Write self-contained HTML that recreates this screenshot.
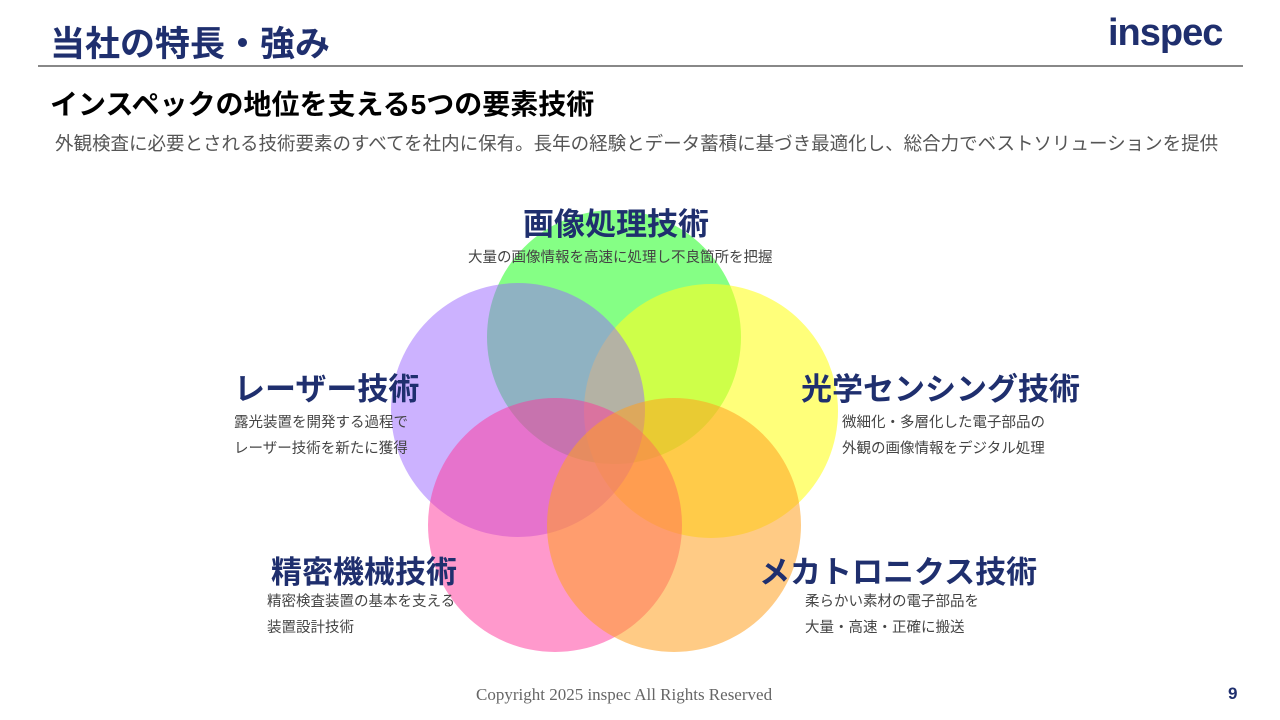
<!DOCTYPE html>
<html><head><meta charset="utf-8"><style>
body{margin:0;width:1280px;height:720px;background:#fff;position:relative;overflow:hidden;font-family:"Liberation Sans","Noto Sans CJK JP",sans-serif;}
.a{position:absolute;white-space:nowrap;}
.h{color:#1f2f6e;font-weight:bold;font-size:31px;}
.d{color:#444;font-size:14.5px;line-height:26px;}
</style></head><body>
<div class="a" style="left:50px;top:16px;font-size:35px;font-weight:bold;color:#1f2f6e;">当社の特長・強み</div>
<div class="a" style="left:1108px;top:12px;font-size:38px;font-weight:bold;color:#1f2f6e;letter-spacing:-1px;">inspec</div>
<div class="a" style="left:38px;top:65px;width:1205px;height:2px;background:#888;"></div>
<div class="a" style="left:50px;top:83px;font-size:28px;font-weight:bold;color:#000;">インスペックの地位を支える5つの要素技術</div>
<div class="a" style="left:55px;top:130px;font-size:18.5px;color:#555;">外観検査に必要とされる技術要素のすべてを社内に保有。長年の経験とデータ蓄積に基づき最適化し、総合力でベストソリューションを提供</div>
<svg class="a" style="left:0;top:0" width="1280" height="720">
<circle cx="614" cy="337" r="127" fill="#33ff33" fill-opacity="0.6"/>
<circle cx="711" cy="411" r="127" fill="#ffff22" fill-opacity="0.6"/>
<circle cx="518" cy="410" r="127" fill="#9966ff" fill-opacity="0.5"/>
<circle cx="555" cy="525" r="127" fill="#ff3399" fill-opacity="0.5"/>
<circle cx="674" cy="525" r="127" fill="#ffa020" fill-opacity="0.55"/>
</svg>
<div class="a h" style="left:523px;top:199px;">画像処理技術</div>
<div class="a d" style="left:468px;top:245px;">大量の画像情報を高速に処理し不良箇所を把握</div>
<div class="a h" style="left:234px;top:364px;">レーザー技術</div>
<div class="a d" style="left:234px;top:410px;">露光装置を開発する過程で<br>レーザー技術を新たに獲得</div>
<div class="a h" style="left:801px;top:364px;">光学センシング技術</div>
<div class="a d" style="left:842px;top:410px;">微細化・多層化した電子部品の<br>外観の画像情報をデジタル処理</div>
<div class="a h" style="left:271px;top:547px;">精密機械技術</div>
<div class="a d" style="left:267px;top:589px;">精密検査装置の基本を支える<br>装置設計技術</div>
<div class="a h" style="left:759px;top:547px;">メカトロニクス技術</div>
<div class="a d" style="left:805px;top:589px;">柔らかい素材の電子部品を<br>大量・高速・正確に搬送</div>
<div class="a" style="left:476px;top:685px;font-family:'Liberation Serif',serif;font-size:17px;color:#666;">Copyright 2025 inspec All Rights Reserved</div>
<div class="a" style="left:1228px;top:684px;font-size:17px;font-weight:bold;color:#1f2f6e;">9</div>
</body></html>
